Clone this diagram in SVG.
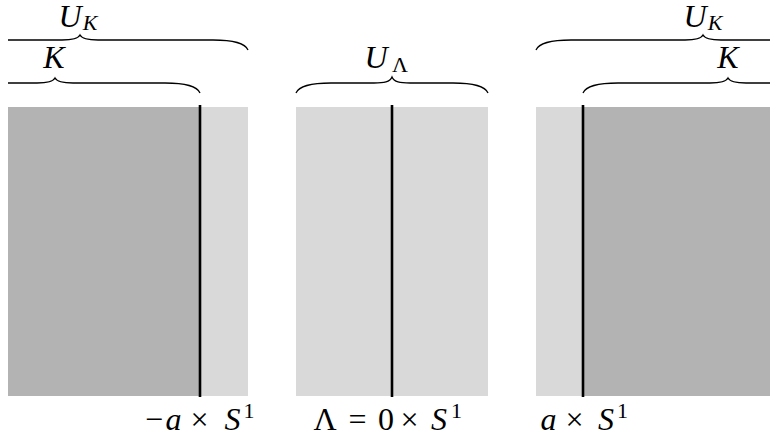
<svg xmlns="http://www.w3.org/2000/svg" width="770" height="440" viewBox="0 0 770 440">
  <style>
    .dark { fill: #b3b3b3; }
    .light { fill: #d9d9d9; }
    .cut { stroke: #000; stroke-width: 2.6; fill: none; }
    .brace { stroke: #000; stroke-width: 1.3; fill: none; }
    .m { font-family: 'Liberation Serif', 'Times New Roman', 'DejaVu Serif', serif; font-size: 32px; fill: #000; text-anchor: middle; }
    .i { font-style: italic; }
    .s { font-size: 22px; }
  </style>
  <defs>
    <clipPath id="clip"><rect x="8" y="0" width="762" height="440"/></clipPath>
  </defs>
  <rect width="770" height="440" fill="#fff"/>

  <g id="left-strip">
    <rect class="dark" x="8" y="107" width="192" height="289"/>
    <rect class="light" x="200" y="107" width="48" height="289"/>
    <line class="cut" x1="200" y1="105" x2="200" y2="397"/>
    <text class="m" font-family="Liberation Serif, serif"><tspan x="154" y="430">−</tspan><tspan class="i" x="173.5" y="430">a</tspan><tspan x="199.5" y="430">×</tspan><tspan class="i" x="232.5" y="430">S</tspan><tspan class="s" x="249" y="418">1</tspan></text>
  </g>

  <g id="middle-strip">
    <rect class="light" x="296" y="107" width="192" height="289"/>
    <line class="cut" x1="392" y1="105" x2="392" y2="397"/>
    <text class="m" font-family="Liberation Serif, serif"><tspan x="325" y="430">Λ</tspan><tspan x="357.5" y="430">=</tspan><tspan x="386" y="430">0</tspan><tspan x="409.5" y="430">×</tspan><tspan class="i" x="439" y="430">S</tspan><tspan class="s" x="456.5" y="418">1</tspan></text>
  </g>

  <g id="right-strip">
    <rect class="light" x="536" y="107" width="47" height="289"/>
    <rect class="dark" x="583" y="107" width="187" height="289"/>
    <line class="cut" x1="583" y1="105" x2="583" y2="397"/>
    <text class="m" font-family="Liberation Serif, serif"><tspan class="i" x="548.5" y="430">a</tspan><tspan x="574.5" y="430">×</tspan><tspan class="i" x="606" y="430">S</tspan><tspan class="s" x="622.5" y="418">1</tspan></text>
  </g>

  <g id="braces" clip-path="url(#clip)">
    <path id="brace-left-UK" class="brace" d="M -88 50 C -85 43, -73 40, -53 40 L 62 40 C 72 40, 78 39, 80 35 C 82 39, 88 40, 98 40 L 213 40 C 233 40, 245 43, 248 50"/>
    <path id="brace-left-K" class="brace" d="M -90 93 C -87 86, -75 83, -55 83 L 37 83 C 47 83, 53 82, 55 78 C 57 82, 63 83, 73 83 L 165 83 C 185 83, 197 86, 200 93"/>
    <path id="brace-mid-UL" class="brace" d="M 296 93 C 299 86, 311 83, 331 83 L 374 83 C 384 83, 390 82, 392 77 C 394 82, 400 83, 410 83 L 453 83 C 473 83, 485 86, 488 93"/>
    <path id="brace-right-UK" class="brace" d="M 536 50 C 539 43, 551 40, 571 40 L 685 40 C 695 40, 701 39, 703 35 C 705 39, 711 40, 721 40 L 835 40 C 855 40, 867 43, 870 50"/>
    <path id="brace-right-K" class="brace" d="M 583 93 C 586 86, 598 83, 618 83 L 710 83 C 720 83, 726 82, 728 78 C 730 82, 736 83, 746 83 L 838 83 C 858 83, 870 86, 873 93"/>
  </g>

  <g id="label-left-UK"><text class="m" font-family="Liberation Serif, serif"><tspan class="i" x="70" y="27">U</tspan><tspan class="i s" x="90" y="30">K</tspan></text></g>
  <g id="label-left-K"><text class="m i" font-family="Liberation Serif, serif" x="54" y="68">K</text></g>
  <g id="label-mid-UL"><text class="m" font-family="Liberation Serif, serif"><tspan class="i" x="376" y="68">U</tspan><tspan class="s" x="400" y="72">Λ</tspan></text></g>
  <g id="label-right-UK"><text class="m" font-family="Liberation Serif, serif"><tspan class="i" x="695" y="27">U</tspan><tspan class="i s" x="715" y="30">K</tspan></text></g>
  <g id="label-right-K"><text class="m i" font-family="Liberation Serif, serif" x="728" y="68">K</text></g>
</svg>
